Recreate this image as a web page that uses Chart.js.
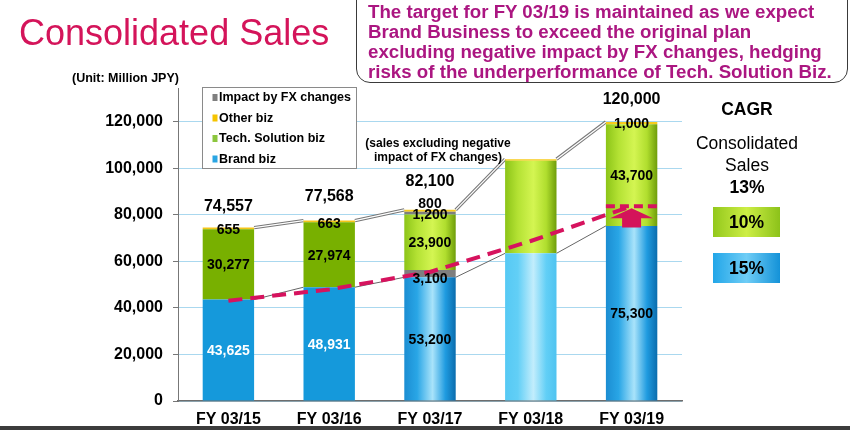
<!DOCTYPE html>
<html>
<head>
<meta charset="utf-8">
<script src="https://cdn.jsdelivr.net/npm/chart.js@4.4.1/dist/chart.umd.min.js"></script>
<style>
  body { margin: 0; background: #fff; font-family: "Liberation Sans", Arial, sans-serif; }
  #wrap { position: relative; width: 850px; height: 430px; overflow: hidden; }
  #wrap canvas { position: absolute; left: 0; top: 0; }
  .txt { position: absolute; white-space: nowrap; color: #000; }
  #title { left: 19px; top: 15px; font-size: 36px; line-height: 36px; color: #d4145a; }
  #callout { position: absolute; left: 356px; top: -14px; width: 492px; height: 97px; border: 1.6px solid #3a3a3a;
             border-radius: 14px; box-sizing: border-box; }
  #calloutText { left: 368px; top: 2px; font-size: 18.7px; line-height: 20px; font-weight: bold; color: #ab1681; }
  #unit { left: 72px; top: 71px; font-size: 12.5px; line-height: 14px; font-weight: bold; }
  #note { left: 338px; top: 136px; width: 200px; text-align: center; font-size: 12px; line-height: 14px; font-weight: bold; }
  .cagr { left: 687px; width: 120px; text-align: center; font-size: 17.5px; }
  .box { position: absolute; left: 713px; width: 67px; height: 30px; text-align: center; line-height: 30px;
         font-size: 17.5px; font-weight: bold; }
  #boxTech { top: 207px; background: linear-gradient(90deg, #93c81c, #cdee45 50%, #8cc21a); }
  #boxBrand { top: 253px; background: linear-gradient(90deg, #22a6e8, #6fcdf6 50%, #1492d8); }
  #band { position: absolute; left: 0; top: 426px; width: 850px; height: 4px; background: #3c3c3c; }
</style>
</head>
<body>
<div id="wrap">
  <canvas id="c" width="850" height="430"></canvas>
  <div class="txt" id="title">Consolidated Sales</div>
  <div id="callout"></div>
  <div class="txt" id="calloutText">The target for FY 03/19 is maintained as we expect<br>Brand Business to exceed the original plan<br>excluding negative impact by FX changes, hedging<br>risks of the underperformance of Tech. Solution Biz.</div>
  <div class="txt" id="unit">(Unit: Million JPY)</div>
  <div class="txt" id="note">(sales excluding negative<br>impact of FX changes)</div>
  <div class="txt cagr" style="top:100px; line-height:18px; font-weight:bold;">CAGR</div>
  <div class="txt cagr" style="top:132px; line-height:22px;">Consolidated<br>Sales<br><b>13%</b></div>
  <div class="box" id="boxTech">10%</div>
  <div class="box" id="boxBrand">15%</div>
  <div id="band"></div>
</div>
<script>
// data (Million JPY)
const years = ['FY 03/15', 'FY 03/16', 'FY 03/17', 'FY 03/18', 'FY 03/19'];
const brandBiz = [43625, 48931, 53200, 63500, 75300];
const fxLower = [null, null, 3100, null, null];
const techBiz = [30277, 27974, 23900, 39800, 43700];
const fxUpper = [null, null, 1200, null, null];
const otherBiz = [655, 663, 800, 700, 1000];
const totals = [74557, 77568, 82100, null, 120000];
const brandTrend = [43150, 47950, 55500, 68800, 83800];
const yTicks = [0, 20000, 40000, 60000, 80000, 100000, 120000];

// styling per year: flat / cylinder / light (FY 03/18 plan bar without labels)
const barLook = ['flat', 'flat', 'cyl', 'light', 'cyl'];
const totalLift = [21, 24, 28, 0, 22];
const labelNudge = { '1-2': 4.5, '3-2': 1, '4-2': -8, '4-0': 0.6, '4-1': 1.3 };
const FONT = '"Liberation Sans", Arial, sans-serif';

const palette = {
  brand: { flat: '#1599db', cyl: ['#1b8dd2', '#29a6e6', '#a9e3fa', '#1f9be0', '#0a6cad'], light: ['#56c9f4', '#62cff6', '#c2edfc', '#62cff6', '#4fc3f0'] },
  tech:  { flat: '#78b000', cyl: ['#8cc418', '#b4e234', '#d4f552', '#b0de2e', '#6f9d0a'], light: ['#8cc418', '#b4e234', '#d4f552', '#b0de2e', '#6f9d0a'] },
  other: { flat: '#f5c518', cyl: '#f7cb1c', light: '#f7cb1c' },
  fx:    { flat: '#7f7f7f', cyl: '#7f7f7f', light: '#7f7f7f' }
};

function fill(c, key) {
  const look = barLook[c.dataIndex];
  const spec = palette[key][look];
  if (typeof spec === 'string') return spec;
  const chart = c.chart;
  const xs = chart.scales.x;
  if (!chart.chartArea || !xs) return spec[2];
  const x = xs.getPixelForValue(c.dataIndex);
  const w = chart.chartArea.width / years.length * 0.51;
  const g = chart.ctx.createLinearGradient(x - w / 2, 0, x + w / 2, 0);
  [0, 0.25, 0.55, 0.8, 1].forEach((s, i) => g.addColorStop(s, spec[i]));
  return g;
}

function line(ctx, x1, y1, x2, y2) {
  ctx.beginPath(); ctx.moveTo(x1, y1); ctx.lineTo(x2, y2); ctx.stroke();
}

const overlay = {
  id: 'overlay',
  beforeDatasetsDraw(chart) {
    const ctx = chart.ctx;
    const tops = chart.getDatasetMeta(4).data;
    const brands = chart.getDatasetMeta(0).data;
    ctx.save();
    for (let i = 0; i < years.length - 1; i++) {
      const a = tops[i], b = tops[i + 1];
      ctx.strokeStyle = '#777'; ctx.lineWidth = 3.4;
      line(ctx, a.x + a.width / 2, a.y, b.x - b.width / 2, b.y);
      ctx.strokeStyle = '#fff'; ctx.lineWidth = 1.3;
      line(ctx, a.x + a.width / 2, a.y, b.x - b.width / 2, b.y);
      const p = brands[i], q = brands[i + 1];
      ctx.strokeStyle = '#666'; ctx.lineWidth = 1;
      line(ctx, p.x + p.width / 2, p.y, q.x - q.width / 2, q.y);
    }
    ctx.restore();
  },
  afterDatasetsDraw(chart) {
    const ctx = chart.ctx;
    const ys = chart.scales.y;
    ctx.save();
    ctx.textAlign = 'center';
    ctx.textBaseline = 'middle';
    ctx.font = 'bold 14px ' + FONT;
    // segment labels
    for (let d = 0; d < 5; d++) {
      const meta = chart.getDatasetMeta(d);
      chart.data.datasets[d].data.forEach((v, i) => {
        if (v == null || barLook[i] === 'light') return;
        const el = meta.data[i];
        const y = (el.y + el.base) / 2 + (labelNudge[d + '-' + i] || 0);
        ctx.fillStyle = (d === 0 && barLook[i] === 'flat') ? '#fff' : '#000';
        ctx.fillText(v.toLocaleString('en-US'), el.x, y + 1);
      });
    }
    // totals
    ctx.font = 'bold 16px ' + FONT;
    ctx.fillStyle = '#000';
    const tops = chart.getDatasetMeta(4).data;
    totals.forEach((t, i) => {
      if (t == null) return;
      ctx.fillText(t.toLocaleString('en-US'), tops[i].x, tops[i].y - totalLift[i]);
    });
    // FX-excluded target marker on last bar
    const last = chart.getDatasetMeta(0).data[years.length - 1];
    const yT = ys.getPixelForValue(brandTrend[brandTrend.length - 1]);
    const yB = ys.getPixelForValue(brandBiz[brandBiz.length - 1]);
    ctx.strokeStyle = '#d6135e'; ctx.lineWidth = 4; ctx.setLineDash([9, 5]);
    line(ctx, last.x - last.width / 2, yT, last.x + last.width / 2 + 2, yT);
    ctx.setLineDash([]);
    const tip = yT + 2, head = tip + 10;
    ctx.fillStyle = '#d4145a';
    ctx.beginPath();
    ctx.moveTo(last.x, tip);
    ctx.lineTo(last.x + 21.5, head); ctx.lineTo(last.x + 9.5, head); ctx.lineTo(last.x + 9.5, yB + 1.5);
    ctx.lineTo(last.x - 9.5, yB + 1.5); ctx.lineTo(last.x - 9.5, head); ctx.lineTo(last.x - 21.5, head);
    ctx.closePath(); ctx.fill();
    // legend box, built from the bar datasets
    const seen = new Set();
    const items = chart.data.datasets.filter(ds => ds.legendOrder != null)
      .sort((a, b) => a.legendOrder - b.legendOrder)
      .filter(ds => !seen.has(ds.label) && seen.add(ds.label));
    ctx.fillStyle = '#fff'; ctx.strokeStyle = '#8a8a8a'; ctx.lineWidth = 1;
    ctx.fillRect(202.5, 87.5, 154, 81); ctx.strokeRect(202.5, 87.5, 154, 81);
    ctx.font = 'bold 12.5px ' + FONT;
    ctx.textAlign = 'left';
    items.forEach((ds, k) => {
      const y = 97.5 + k * 20.5;
      ctx.fillStyle = ds.legendColor;
      ctx.fillRect(212.5, y - 3.5, 5, 7);
      ctx.fillStyle = '#000';
      ctx.fillText(ds.label, 219, y + 0.5);
    });
    ctx.restore();
  }
};

const tickFont = { family: FONT, size: 16, weight: 'bold' };

new Chart(document.getElementById('c'), {
  type: 'bar',
  data: {
    labels: years,
    datasets: [
      { label: 'Brand biz', data: brandBiz, legendOrder: 3, legendColor: '#2aa5e3', backgroundColor: c => fill(c, 'brand') },
      { label: 'Impact by FX changes', data: fxLower, legendOrder: 0, legendColor: '#7f7f7f', backgroundColor: c => fill(c, 'fx') },
      { label: 'Tech. Solution biz', data: techBiz, legendOrder: 2, legendColor: '#8cc63e', backgroundColor: c => fill(c, 'tech') },
      { label: 'Impact by FX changes', data: fxUpper, legendOrder: 0, legendColor: '#7f7f7f', backgroundColor: c => fill(c, 'fx') },
      { label: 'Other biz', data: otherBiz, legendOrder: 1, legendColor: '#f5c400', backgroundColor: c => fill(c, 'other') },
      { type: 'line', label: 'Brand biz excl. FX', data: brandTrend, stack: 'trend', order: -1,
        borderColor: '#d6135e', borderWidth: 4, borderDash: [14, 8], pointRadius: 0, fill: false, tension: 0 }
    ]
  },
  options: {
    responsive: false,
    animation: false,
    layout: { padding: { left: 0, right: 168, top: 88, bottom: 0 } },
    datasets: { bar: { barPercentage: 0.51, categoryPercentage: 1, borderWidth: 0 } },
    plugins: { legend: { display: false }, tooltip: { enabled: false } },
    scales: {
      x: {
        stacked: true,
        grid: { display: false, drawTicks: false },
        border: { display: true, color: '#6d6d6d', width: 1.5 },
        ticks: { padding: 9, color: '#000', font: tickFont },
        afterFit: s => { s.height = 29; }
      },
      y: {
        stacked: true, min: 0, max: 134600,
        afterBuildTicks: s => { s.ticks = yTicks.map(v => ({ value: v })); },
        grid: { color: '#aad8ef', tickColor: '#777', tickLength: 5 },
        border: { color: '#777', width: 1 },
        ticks: { padding: 10, color: '#000', font: tickFont, callback: v => v.toLocaleString('en-US') },
        afterFit: s => { s.width = 178; }
      }
    }
  },
  plugins: [overlay]
});
</script>
</body>
</html>
